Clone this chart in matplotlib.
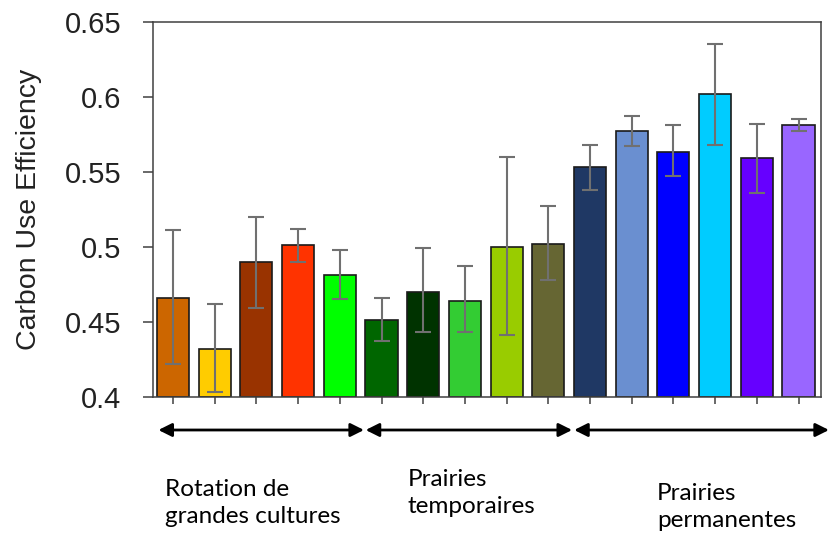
import matplotlib
matplotlib.use("Agg")
import matplotlib.pyplot as plt
import numpy as np

# Carbon use efficiency per site, grouped by land use
values = [0.466, 0.432, 0.490, 0.501, 0.481,
          0.451, 0.470, 0.464, 0.500, 0.502,
          0.553, 0.577, 0.563, 0.602, 0.559, 0.581]
err_high = [0.511, 0.462, 0.520, 0.512, 0.498,
            0.466, 0.499, 0.487, 0.560, 0.527,
            0.568, 0.587, 0.581, 0.635, 0.582, 0.585]
err_low = [0.422, 0.403, 0.459, 0.490, 0.465,
           0.437, 0.443, 0.443, 0.441, 0.478,
           0.538, 0.567, 0.547, 0.568, 0.536, 0.577]
colors = ["#CC6600", "#FFCC00", "#993300", "#FF3300", "#00FF00",
          "#006600", "#003300", "#33CC33", "#99CC00", "#666633",
          "#1F3864", "#6A8FD0", "#0000FF", "#00CCFF", "#6600FF", "#9966FF"]

groups = ["Rotation de\ngrandes cultures", "Prairies\ntemporaires", "Prairies\npermanentes"]
# group spans along the x axis (in bar units)
group_spans = [(-0.35, 4.58), (4.62, 9.57), (9.62, 15.73)]

yticks = [0.4, 0.45, 0.5, 0.55, 0.6, 0.65]
ytick_labels = ["0.4", "0.45", "0.5", "0.55", "0.6", "0.65"]

x = np.arange(len(values))
vals = np.array(values)
yerr = np.array([vals - np.array(err_low), np.array(err_high) - vals])

fig = plt.figure(figsize=(8.31, 5.34), dpi=100)
ax = fig.add_axes([0.1841, 0.2566, 0.8039, 0.7022])

ax.bar(x, vals - 0.4, bottom=0.4, width=0.77, color=colors,
       edgecolor="#1a1a1a", linewidth=1.2, zorder=2)
ax.errorbar(x, vals, yerr=yerr, fmt="none", ecolor="#707070",
            elinewidth=1.5, capsize=6, capthick=1.5, zorder=3)

ax.set_xlim(-0.48, 15.54)
ax.set_ylim(0.4, 0.65)
ax.set_yticks(yticks)
ax.set_yticklabels(ytick_labels, fontsize=21, family="Liberation Sans", color="#222222")
ax.set_xticks(x)
ax.set_xticklabels([])
ax.tick_params(axis="y", length=7, width=1.1, pad=16, color="#404040")
ax.tick_params(axis="x", length=5, width=1.1, color="#404040")
for sp in ax.spines.values():
    sp.set_color("#404040")
    sp.set_linewidth(1.1)

ax.set_ylabel("Carbon Use Efficiency", fontsize=20.5, family="Liberation Sans", color="#222222")
ax.yaxis.set_label_coords(-0.166, 0.5)

# double-headed arrows + group labels below the axis
for (x0, x1), name in zip(group_spans, groups):
    ax.annotate("", xy=(x1, 104), xytext=(x0, 104),
                xycoords=("data", "figure pixels"), textcoords=("data", "figure pixels"),
                arrowprops=dict(arrowstyle="<|-|>", color="black", lw=2,
                                mutation_scale=20, shrinkA=0, shrinkB=0),
                annotation_clip=False)

label_pos = [(165, 503), (408, 493), (657, 507)]
for (px, py), name in zip(label_pos, groups):
    fig.text(px / 831, 1 - py / 534, name, fontsize=17.5, family="Lato",
             ha="left", va="center", linespacing=1.38)

fig.savefig("out.png", dpi=100)
